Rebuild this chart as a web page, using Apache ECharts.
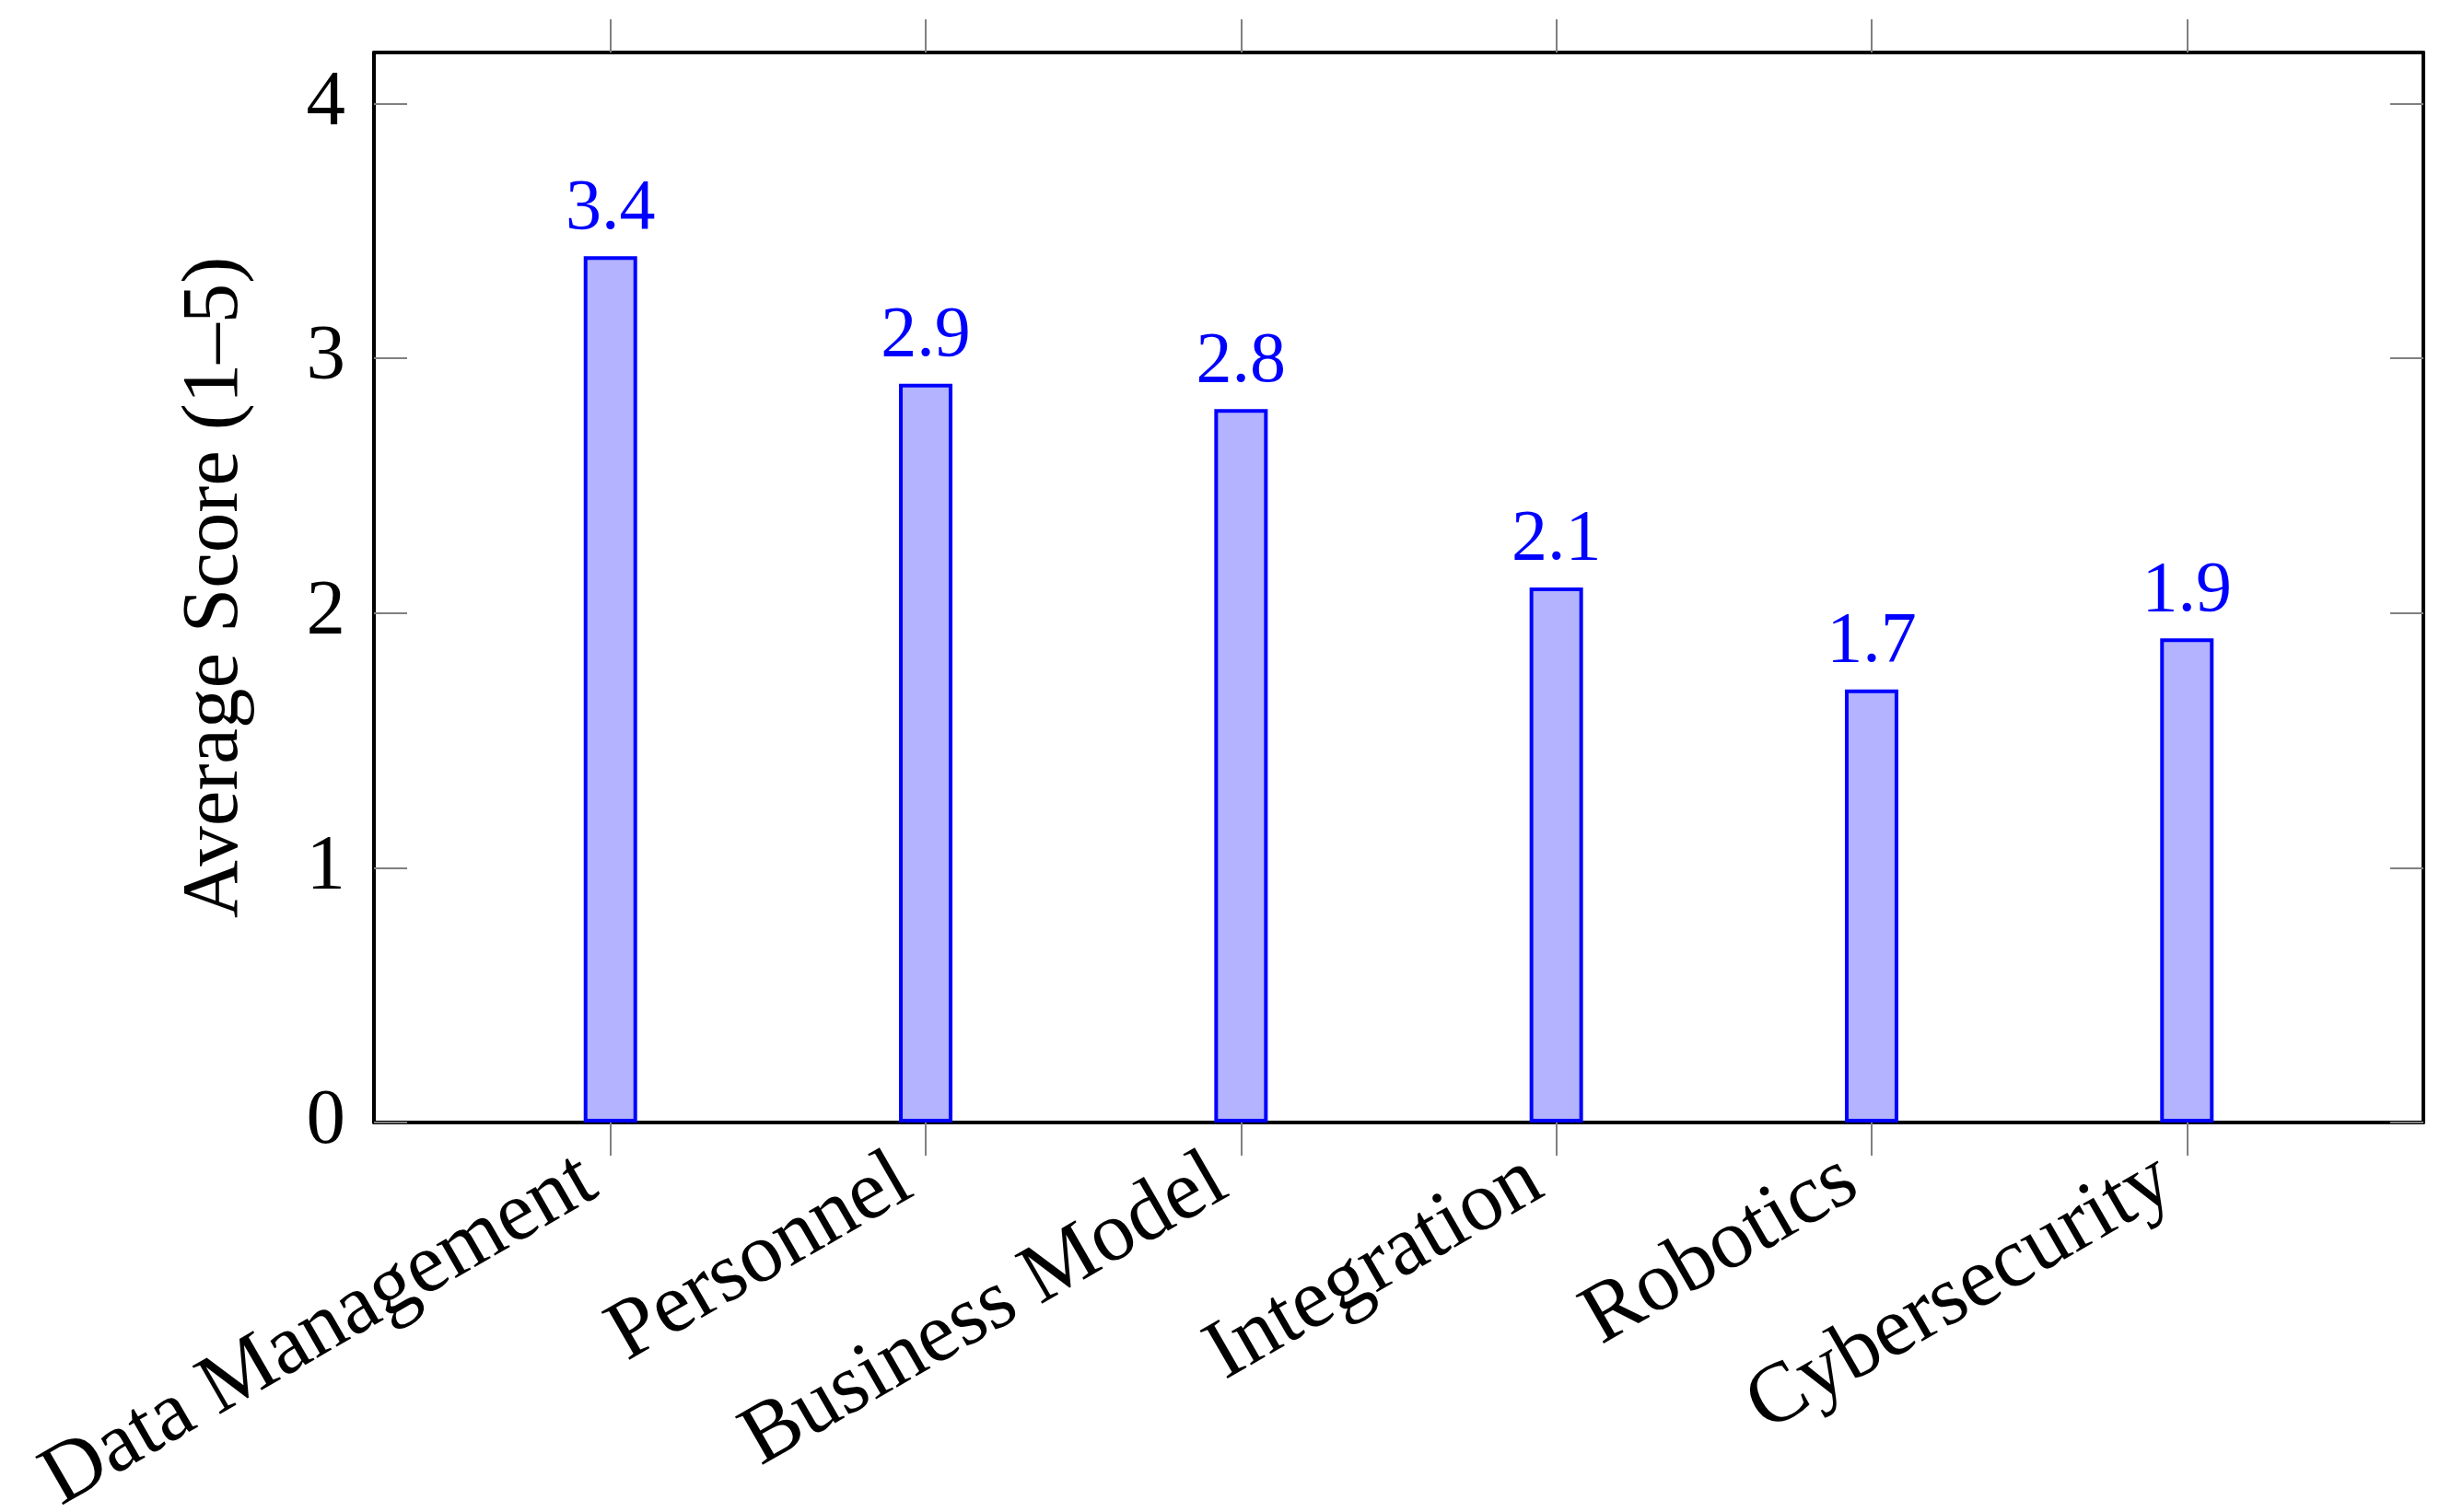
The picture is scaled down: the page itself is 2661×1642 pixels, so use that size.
<!DOCTYPE html>
<html>
<head>
<meta charset="utf-8">
<script src="https://cdn.jsdelivr.net/npm/echarts@6/dist/echarts.min.js"></script>
<style>
html, body { margin: 0; padding: 0; background: #fff; }
#chart { width: 2661px; height: 1642px; }
</style>
</head>
<body>
<div id="chart"></div>
<script>
const categories = ['Data Management', 'Personnel', 'Business Model', 'Integration', 'Robotics', 'Cybersecurity'];
const scores = [3.4, 2.9, 2.8, 2.1, 1.7, 1.9];
const yTicks = [0, 1, 2, 3, 4];
const yAxisTitle = 'Average Score (1–5)';

const FONT = 'Liberation Serif';
const TICK_COLOR = '#808080';
const catPositions = categories.map((c, i) => i);
const barData = scores.map((v, i) => [i, v]);

const chart = echarts.init(document.getElementById('chart'), null, { renderer: 'canvas' });
const axisLine = { show: true, onZero: false, lineStyle: { color: '#000', width: 4 } };

chart.setOption({
  backgroundColor: '#fff',
  animation: false,
  grid: { left: 406, top: 57, width: 2225, height: 1162, containLabel: false, outerBoundsMode: 'none' },
  xAxis: [
    {
      type: 'value', position: 'bottom', min: -0.75, max: 5.75,
      axisLine: axisLine,
      splitLine: { show: false },
      axisTick: { show: true, inside: false, length: 36, customValues: catPositions, lineStyle: { color: TICK_COLOR, width: 2 } },
      axisLabel: {
        show: true, customValues: catPositions, rotate: 30, margin: 44,
        padding: [0, 26, 0, 0],
        fontFamily: FONT, fontSize: 92, color: '#000',
        formatter: v => categories[Math.round(v)]
      }
    },
    {
      type: 'value', position: 'top', min: -0.75, max: 5.75,
      axisLine: axisLine,
      splitLine: { show: false },
      axisTick: { show: true, inside: false, length: 36, customValues: catPositions, lineStyle: { color: TICK_COLOR, width: 2 } },
      axisLabel: { show: false }
    }
  ],
  yAxis: [
    {
      type: 'value', position: 'left', min: 0, max: 4.2,
      axisLine: axisLine,
      splitLine: { show: false },
      axisTick: { show: true, inside: true, length: 36, customValues: yTicks, lineStyle: { color: TICK_COLOR, width: 2 } },
      axisLabel: { show: true, customValues: yTicks, margin: 31, fontFamily: FONT, fontSize: 85, color: '#000' },
      name: yAxisTitle, nameLocation: 'middle', nameRotate: 90, nameGap: 128,
      nameTextStyle: { fontFamily: FONT, fontSize: 87, color: '#000' }
    },
    {
      type: 'value', position: 'right', min: 0, max: 4.2,
      axisLine: axisLine,
      splitLine: { show: false },
      axisTick: { show: true, inside: true, length: 36, customValues: yTicks, lineStyle: { color: TICK_COLOR, width: 2 } },
      axisLabel: { show: false }
    }
  ],
  series: [{
    type: 'bar',
    xAxisIndex: 0, yAxisIndex: 0,
    data: barData,
    barWidth: 58,
    itemStyle: { color: '#b3b3ff', borderColor: '#0000ff', borderWidth: 4 },
    label: {
      show: true, position: 'top', distance: 12,
      fontFamily: FONT, fontSize: 78, color: '#0000ff',
      formatter: p => p.value[1].toFixed(1)
    }
  }]
});
</script>
</body>
</html>
